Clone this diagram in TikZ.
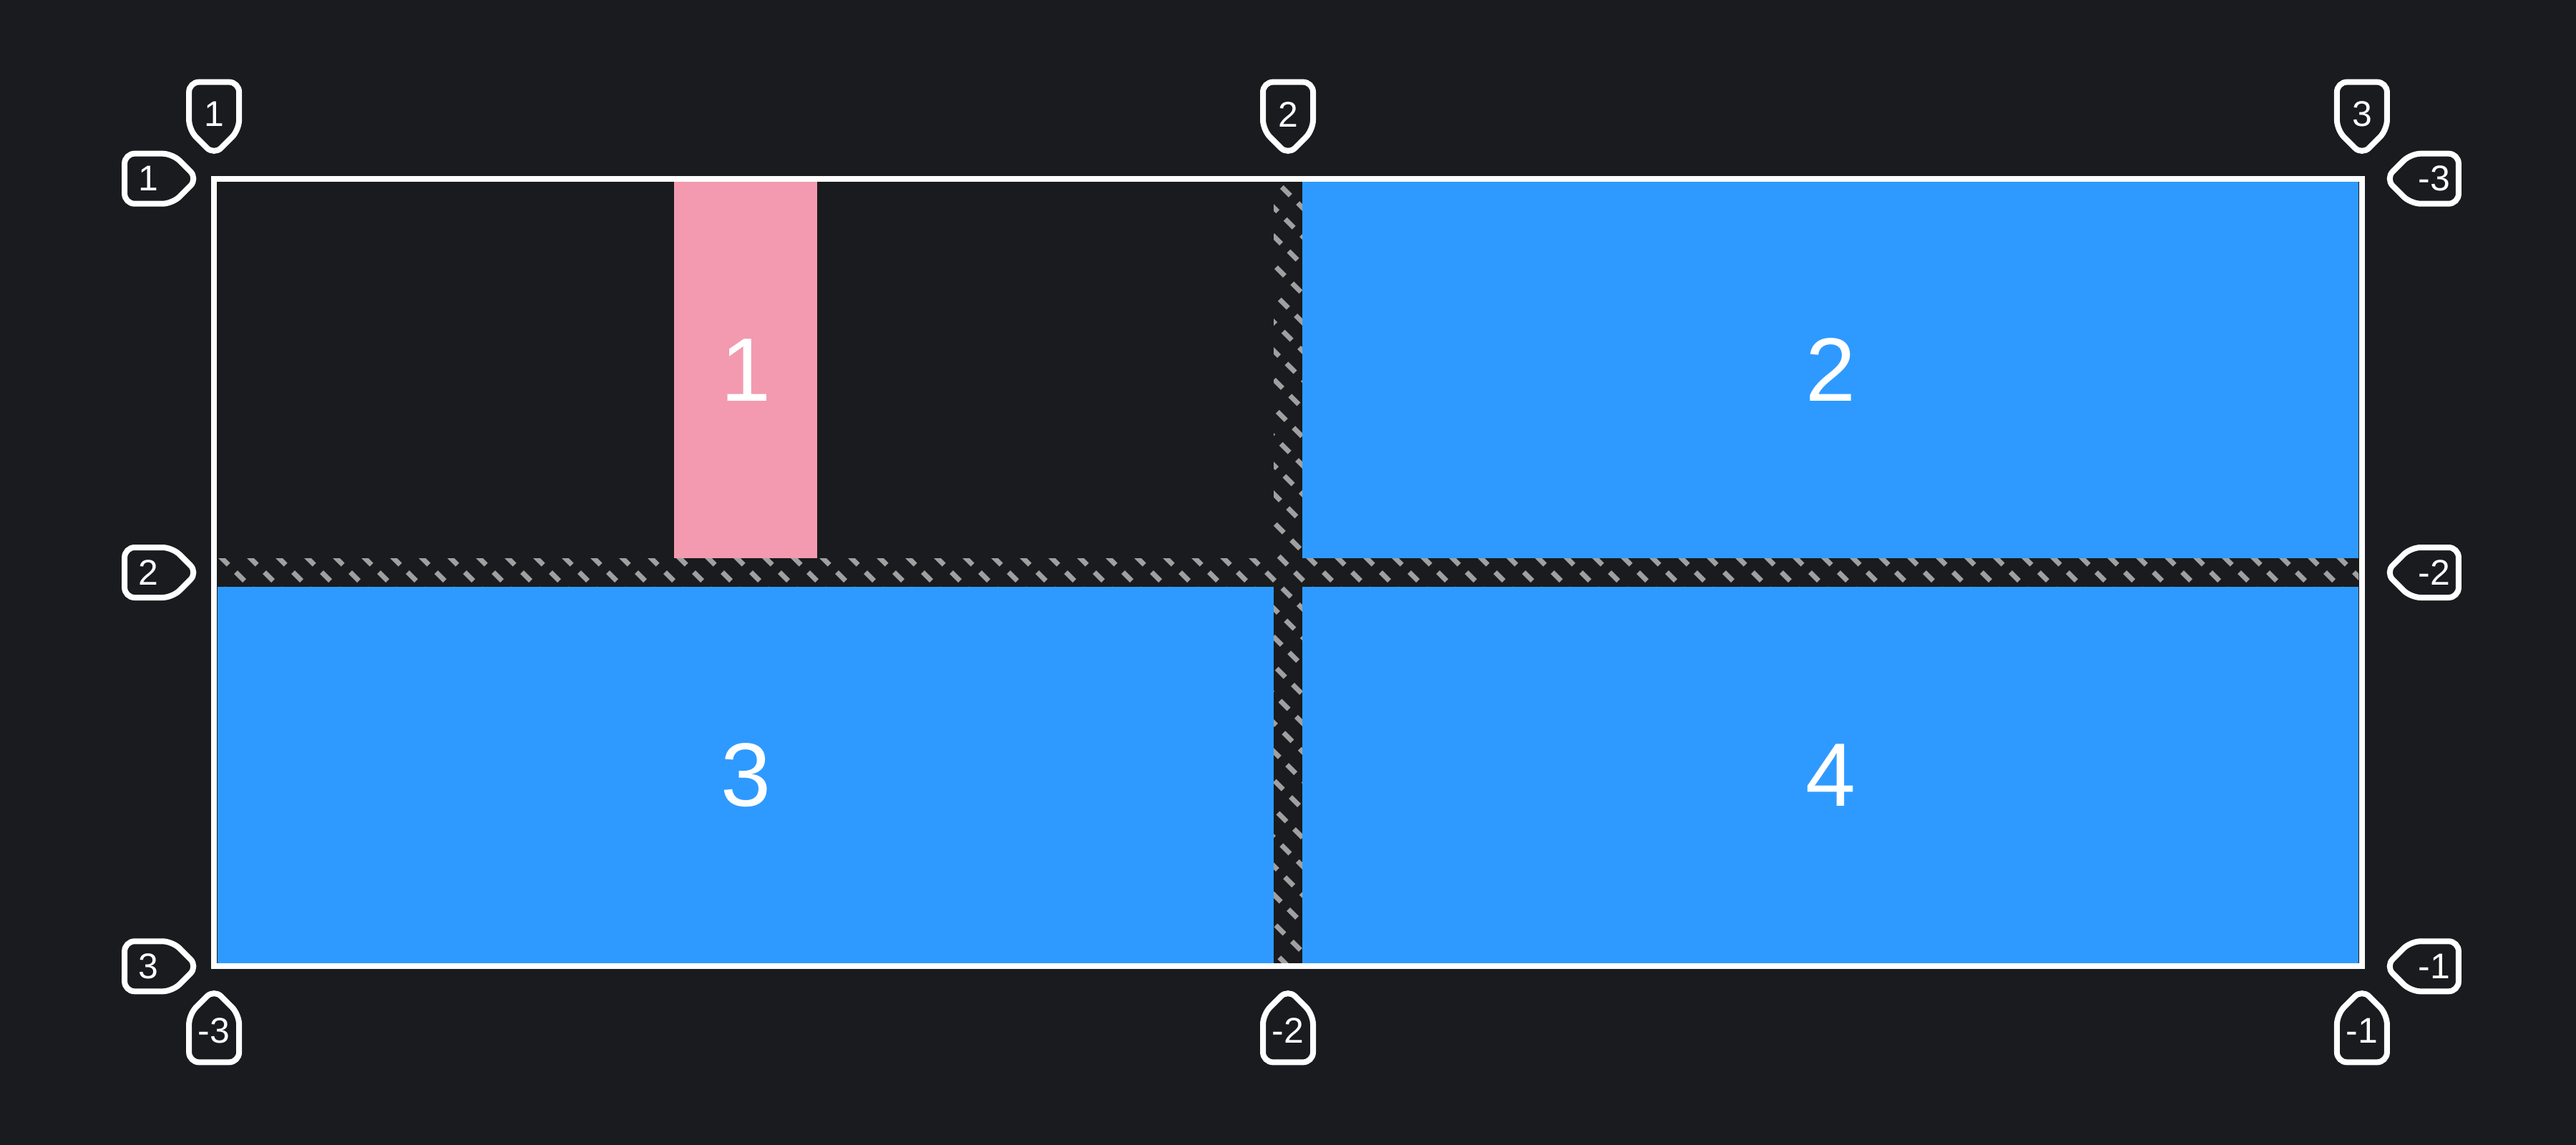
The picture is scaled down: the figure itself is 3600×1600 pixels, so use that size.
\documentclass[tikz,border=0pt]{standalone}
\usepackage{fontspec}
\setmainfont{Liberation Sans}
\usetikzlibrary{positioning}
\definecolor{bgdark}{HTML}{1A1B1F}
\definecolor{itemblue}{HTML}{2E9AFF}
\definecolor{itempink}{HTML}{F39AB0}
\definecolor{hatchgray}{HTML}{A0A0A0}

\begin{document}
\begin{tikzpicture}[x=0.01cm,y=-0.01cm,
      item/.style={
         rectangle,
         inner sep=0pt,
         outer sep=0pt,
         minimum width=14.76cm,
         minimum height=5.26cm,
         fill=itemblue,
         text=white,
         font=\fontsize{35.8pt}{40pt}\selectfont
      },
      gridframe/.style={
         rectangle,
         inner sep=0pt,
         outer sep=0pt,
         draw=white,
         line width=0.08cm,
         minimum width=30cm,
         minimum height=11cm
      },
      hatch/.style={
         draw=hatchgray,
         line width=0.07cm,
         dash pattern=on 0.17cm off 0.147cm,
         dash phase=0.085cm
      },
      tagline/.style={draw=white,line width=0.08cm,rounded corners=0.14cm},
      taglabel/.style={text=white,inner sep=0pt,font=\fontsize{14.2pt}{16pt}\selectfont}
    ]
  \fill[bgdark] (0,0) rectangle (3600,1600);
  \useasboundingbox (0,0) rectangle (3600,1600);

  % grid items
  \node (item1) [item, fill=itempink, minimum width=2cm] at (1042,517) {1};
  \node (item2) [item] at (2558,517) {2};
  \node (item3) [item] at (1042,1083) {3};
  \node (item4) [item] at (2558,1083) {4};

  % gaps
  \begin{scope}
    \clip (304,780) rectangle (3296,820) (1780,254) rectangle (1820,1346);
    \foreach \c in {-350,-310,...,2770}
      \draw[hatch] (\c,200) -- ++(1200,1200);
  \end{scope}

  \node (grid) [gridframe] at (1800,800) {};

  % line numbers
  \foreach \i/\a/\lbl in {1/north west/1,2/north/2,3/north east/3}{
    \coordinate (tp\i) at ([yshift=0.33cm]grid.\a);
    \draw[tagline] (tp\i) -- ++(-35,-35) -- ++(0,-67) -- ++(70,0) -- ++(0,67) -- cycle;
    \node (top\i) [taglabel] at ([yshift=0.57cm]tp\i) {\lbl};
  }
  \foreach \i/\a/\lbl in {1/south west/-3,2/south/-2,3/south east/-1}{
    \coordinate (bp\i) at ([yshift=-0.32cm]grid.\a);
    \draw[tagline] (bp\i) -- ++(-35,35) -- ++(0,67) -- ++(70,0) -- ++(0,-67) -- cycle;
    \node (bottom\i) [taglabel] at ([yshift=-0.58cm]bp\i) {\lbl};
  }
  \foreach \i/\a/\lbl in {1/north west/1,2/west/2,3/south west/3}{
    \coordinate (lp\i) at ([xshift=-0.23cm]grid.\a);
    \draw[tagline] (lp\i) -- ++(-35,-35) -- ++(-67,0) -- ++(0,70) -- ++(67,0) -- cycle;
    \node (left\i) [taglabel] at ([xshift=-0.685cm]lp\i) {\lbl};
  }
  \foreach \i/\a/\lbl in {1/north east/-3,2/east/-2,3/south east/-1}{
    \coordinate (rp\i) at ([xshift=0.33cm]grid.\a);
    \draw[tagline] (rp\i) -- ++(35,-35) -- ++(67,0) -- ++(0,70) -- ++(-67,0) -- cycle;
    \node (right\i) [taglabel] at ([xshift=0.68cm]rp\i) {\lbl};
  }
\end{tikzpicture}
\end{document}
